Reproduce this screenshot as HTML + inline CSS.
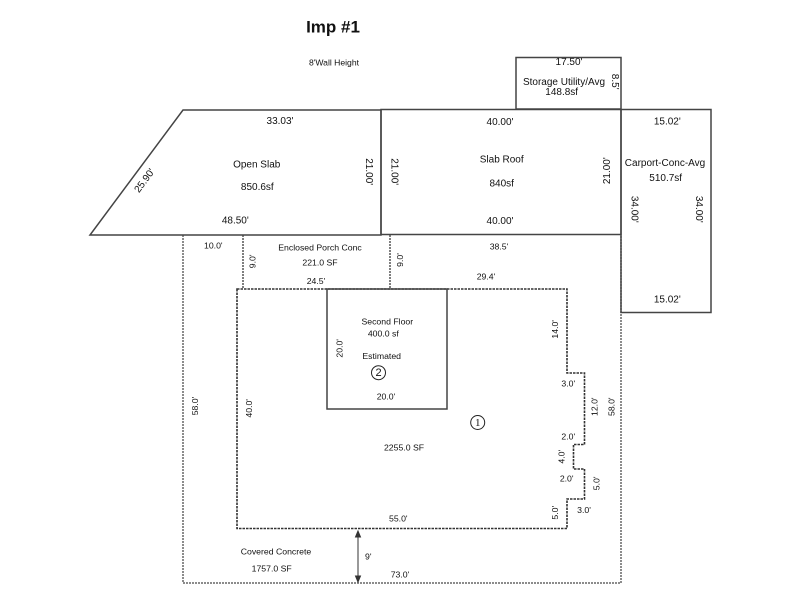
<!DOCTYPE html>
<html><head><meta charset="utf-8"><style>
html,body{margin:0;padding:0;background:#fff;}
svg{display:block;}
text{font-family:"Liberation Sans",Arial,sans-serif;fill:#111;}
.m{font-size:10px;}
.s{font-size:8.7px;}
</style></head><body>
<svg width="800" height="600" viewBox="0 0 800 600" xmlns="http://www.w3.org/2000/svg">
<rect width="800" height="600" fill="#fff"/>
<!-- covered concrete (dashed) -->
<path d="M183 235 V583 H621 V235" fill="none" stroke="#666" stroke-width="1.5" stroke-dasharray="2,1"/>
<!-- porch dashed -->
<path d="M243 235 V289 M390 235 V289" fill="none" stroke="#555" stroke-width="1.5" stroke-dasharray="2,1"/>
<!-- main house -->
<path d="M237 289 H567 V373 H584.5 V444.5 H573.5 V469 H584.5 V499 H567 V528.5 H237 Z" fill="none" stroke="#333" stroke-width="1.6" stroke-dasharray="2.5,1"/>
<!-- solid structures -->
<g fill="none" stroke="#444" stroke-width="1.5">
<path d="M183 110 H381 V235 H90 Z"/>
<rect x="381" y="109.5" width="240" height="125"/>
<rect x="516" y="57.5" width="105" height="51.5"/>
<rect x="621" y="109.5" width="90" height="203"/>
<rect x="327" y="289" width="120" height="120"/>
</g>
<!-- arrow -->
<g stroke="#333" stroke-width="1" fill="#333">
<line x1="358" y1="535" x2="358" y2="579"/>
<path d="M358 531 L355.5 537 L360.5 537 Z"/>
<path d="M358 582 L355.5 576 L360.5 576 Z"/>
</g>
<!-- circles -->
<circle cx="378.5" cy="372.7" r="7" fill="none" stroke="#222" stroke-width="1"/>
<circle cx="477.7" cy="422.5" r="7" fill="none" stroke="#222" stroke-width="1"/>
<g text-anchor="middle" dominant-baseline="central">
<text x="378.5" y="373.2" style="font-size:11px">2</text>
<text x="477.7" y="423" style="font-size:11px;font-family:'Liberation Serif',serif">1</text>

<text x="333" y="27" style="font-size:17px;font-weight:bold">Imp #1</text>
<text x="334" y="62.5" style="font-size:8.6px">8'Wall Height</text>

<text class="m" x="280" y="121.7">33.03'</text>
<text class="m" x="256.7" y="165">Open Slab</text>
<text class="m" x="257.3" y="187.7">850.6sf</text>
<text class="m" x="235.3" y="221">48.50'</text>
<text class="m" x="145" y="181" transform="rotate(-53.4 145 181)">25.90'</text>
<text class="m" x="368.3" y="171.7" transform="rotate(90 368.3 171.7)">21.00'</text>
<text class="m" x="394" y="171.7" transform="rotate(90 394 171.7)">21.00'</text>

<text class="m" x="569" y="62.7">17.50'</text>
<text class="m" x="564" y="82.3">Storage Utility/Avg</text>
<text class="m" x="561.7" y="92.7">148.8sf</text>
<text class="m" x="614.3" y="81.7" transform="rotate(90 614.3 81.7)">8.5'</text>

<text class="m" x="500" y="122.7">40.00'</text>
<text class="m" x="501.7" y="160">Slab Roof</text>
<text class="m" x="501.7" y="184">840sf</text>
<text class="m" x="500" y="221.7">40.00'</text>
<text class="m" x="607.7" y="170.7" transform="rotate(-90 607.7 170.7)">21.00'</text>

<text class="m" x="667.3" y="122">15.02'</text>
<text class="m" x="665" y="163.3">Carport-Conc-Avg</text>
<text class="m" x="665.7" y="178.7">510.7sf</text>
<text class="m" x="634" y="209.3" transform="rotate(90 634 209.3)">34.00'</text>
<text class="m" x="698.3" y="209.3" transform="rotate(90 698.3 209.3)">34.00'</text>
<text class="m" x="667.3" y="300">15.02'</text>

<text class="s" x="213.3" y="245.3">10.0'</text>
<text class="s" x="252.7" y="261.3" transform="rotate(-90 252.7 261.3)">9.0'</text>
<text class="s" x="320" y="247.7">Enclosed Porch Conc</text>
<text class="s" x="320" y="262.3">221.0 SF</text>
<text class="s" x="316" y="281">24.5'</text>
<text class="s" x="499" y="246.7">38.5'</text>
<text class="s" x="400" y="260" transform="rotate(-90 400 260)">9.0'</text>
<text class="s" x="486" y="276.7">29.4'</text>

<text class="s" x="387.3" y="321.7">Second Floor</text>
<text class="s" x="383.3" y="333.3">400.0 sf</text>
<text class="s" x="339.3" y="348.3" transform="rotate(-90 339.3 348.3)">20.0'</text>
<text class="s" x="381.7" y="356">Estimated</text>
<text class="s" x="386" y="396.7">20.0'</text>
<text class="s" x="249" y="408.3" transform="rotate(-90 249 408.3)">40.0'</text>
<text class="s" x="195" y="406" transform="rotate(-90 195 406)">58.0'</text>
<text class="s" x="404" y="447.3">2255.0 SF</text>
<text class="s" x="398.3" y="518.7">55.0'</text>
<text class="s" x="276" y="551.7">Covered Concrete</text>
<text class="s" x="271.7" y="568.3">1757.0 SF</text>
<text class="s" x="368.3" y="556.7">9'</text>
<text class="s" x="400" y="574.7">73.0'</text>

<text class="s" x="555" y="329.3" transform="rotate(-90 555 329.3)">14.0'</text>
<text class="s" x="568.3" y="383.3">3.0'</text>
<text class="s" x="594.3" y="406.7" transform="rotate(-90 594.3 406.7)">12.0'</text>
<text class="s" x="611.7" y="406.7" transform="rotate(-90 611.7 406.7)">58.0'</text>
<text class="s" x="568.3" y="436.7">2.0'</text>
<text class="s" x="561.7" y="456.7" transform="rotate(-90 561.7 456.7)">4.0'</text>
<text class="s" x="566.7" y="478.3">2.0'</text>
<text class="s" x="596.7" y="483.3" transform="rotate(-90 596.7 483.3)">5.0'</text>
<text class="s" x="555" y="512.7" transform="rotate(-90 555 512.7)">5.0'</text>
<text class="s" x="584" y="510">3.0'</text>
</g>
</svg>
</body></html>
